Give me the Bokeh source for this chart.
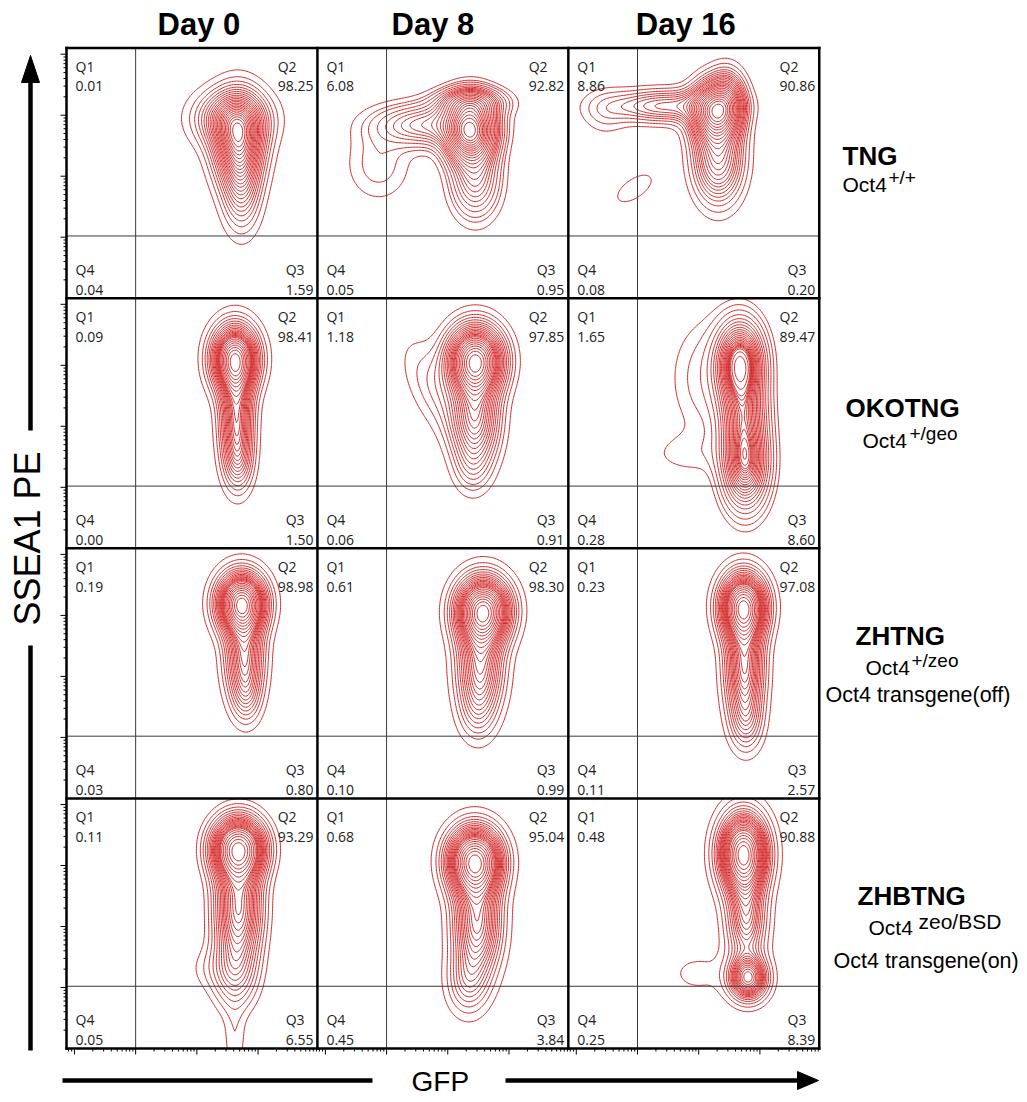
import numpy as np
from bokeh.plotting import figure
from bokeh.models import Range1d
from bokeh.core.properties import value
from bokeh.embed import file_html
from bokeh.resources import INLINE

# ---------------- data ----------------
days = ["Day 0", "Day 8", "Day 16"]
cell_lines = ["TNG", "OKOTNG", "ZHTNG", "ZHBTNG"]
genotype_sup = ["+/+", "+/geo", "+/zeo", "zeo/BSD"]
transgene = ["", "", "Oct4 transgene(off)", "Oct4 transgene(on)"]

# quadrant percentages, rows = cell lines, columns = days
q1 = [[0.01, 6.08, 8.86], [0.09, 1.18, 1.65], [0.19, 0.61, 0.23], [0.11, 0.68, 0.48]]
q2 = [[98.25, 92.82, 90.86], [98.41, 97.85, 89.47], [98.98, 98.30, 97.08], [93.29, 95.04, 90.88]]
q3 = [[1.59, 0.95, 0.20], [1.50, 0.91, 8.60], [0.80, 0.99, 2.57], [6.55, 3.84, 8.39]]
q4 = [[0.04, 0.05, 0.08], [0.00, 0.06, 0.28], [0.03, 0.10, 0.11], [0.05, 0.45, 0.25]]

# quadrant gates (in decades of the log axes)
gate_gfp = 1.13
gate_ssea = 1.02

# cell populations per panel (row-major):
# centre (GFP, SSEA1) in decades, spread in decades, relative weight, correlation
pop_cx = [
    [2.81, 2.70, 2.86], [2.50, 2.50, 1.80, 1.00, 2.58], [2.40, 2.45, 1.60, 0.60, 1.08, 2.60],
    [2.75, 2.78, 2.81], [2.58, 2.58, 1.90, 2.53], [2.81, 2.89, 2.86, 1.95, 2.29],
    [2.86, 2.91, 2.94], [2.71, 2.66, 2.61], [2.86, 2.88, 2.91],
    [2.81, 2.81, 2.75, 2.75, 2.29], [2.57, 2.61, 2.45], [2.86, 2.94, 2.91, 2.12],
]
pop_cy = [
    [2.58, 2.95, 1.80], [2.75, 3.21, 2.84, 2.20, 1.95], [3.05, 2.30, 3.15, 3.05, 1.80, 3.25],
    [3.11, 2.13, 1.39], [3.08, 2.13, 2.60, 1.31], [3.03, 1.39, 2.21, 1.55, 2.79],
    [3.20, 2.30, 1.64], [3.08, 2.13, 1.39], [3.15, 2.13, 1.23],
    [3.28, 2.30, 1.23, 0.10, 1.31], [3.08, 2.05, 1.07], [3.20, 1.15, 2.13, 1.23],
]
pop_sx = [
    [0.26, 0.39, 0.20], [0.25, 0.35, 0.55, 0.35, 0.25], [0.24, 0.25, 0.60, 0.25, 0.24, 0.18],
    [0.25, 0.18, 0.16], [0.29, 0.25, 0.35, 0.20], [0.23, 0.23, 0.23, 0.50, 0.41],
    [0.26, 0.21, 0.16], [0.29, 0.25, 0.20], [0.25, 0.21, 0.18],
    [0.28, 0.25, 0.25, 0.13, 0.25], [0.29, 0.26, 0.23], [0.25, 0.20, 0.21, 0.41],
]
pop_sy = [
    [0.46, 0.30, 0.46], [0.32, 0.15, 0.22, 0.40, 0.40], [0.30, 0.45, 0.17, 0.25, 0.19, 0.30],
    [0.36, 0.57, 0.33], [0.36, 0.49, 0.55, 0.30], [0.41, 0.46, 0.41, 0.25, 0.66],
    [0.33, 0.49, 0.30], [0.36, 0.52, 0.33], [0.36, 0.57, 0.33],
    [0.33, 0.57, 0.41, 0.40, 0.25], [0.36, 0.57, 0.36], [0.41, 0.23, 0.49, 0.28],
]
pop_w = [
    [1.0, 0.5, 0.4], [1.0, 0.3, 0.25, 0.07, 0.25], [1.0, 0.5, 0.3, 0.07, 0.07, 0.35],
    [1.0, 0.6, 0.2], [1.0, 0.5, 0.10, 0.1], [1.0, 0.8, 0.5, 0.05, 0.10],
    [1.0, 0.5, 0.15], [1.0, 0.5, 0.12], [1.0, 0.6, 0.2],
    [1.0, 0.6, 0.25, 0.08, 0.05], [1.0, 0.55, 0.2], [1.0, 0.6, 0.4, 0.05],
]
pop_rho = [
    [0, 0, 0], [0, 0, 0, 0, 0], [0, 0, 0, 0, 0.6, 0],
    [0, 0, 0], [0, 0, -0.6, 0], [0, 0, 0, 0, 0],
    [0, 0, 0], [0, 0, 0], [0, 0, 0],
    [0, 0, 0, 0, 0], [0, 0, 0], [0, 0, 0, 0],
]

# ---------------- layout ----------------
P = 4.1                      # panel size in decades
UX, UY = 61.2, 61.0          # pixels per decade
GL, GB = 66.0, 1048.0        # grid left / bottom in page pixels
W_PX, H_PX = 1024, 1100


def X(px):
    return (px - GL) / UX


def Y(py):
    return (GB - py) / UY


def lift(fs):
    # baseline correction (in decades) for a font size in px
    return (0.3 * fs + 1.5) / UY


RED = "#d42a2a"
SANS = value("Liberation Sans")
QF = value("Open Sans")

p = figure(width=W_PX, height=H_PX, x_range=Range1d(X(0), X(W_PX)),
           y_range=Range1d(Y(H_PX), Y(0)), output_backend="svg",
           toolbar_location=None, min_border=0)
p.axis.visible = False
p.grid.visible = False
p.outline_line_color = None
p.background_fill_color = "white"

# ---- contour plots ----
n = 165
g = np.linspace(0, P, n)
GX, GY = np.meshgrid(g, g)
fracs = np.arange(0.04, 0.99, 0.04)

for r in range(4):
    for c in range(3):
        k = r * 3 + c
        z = np.zeros_like(GX)
        for cx, cy, sx, sy, w, rho in zip(pop_cx[k], pop_cy[k], pop_sx[k], pop_sy[k], pop_w[k], pop_rho[k]):
            dx = (GX - cx) / sx
            dy = (GY - cy) / sy
            z += w * np.exp(-0.5 * (dx * dx - 2 * rho * dx * dy + dy * dy) / (1 - rho * rho))
        zs = np.sort(z.ravel())[::-1]
        cum = np.cumsum(zs)
        cum /= cum[-1]
        lv = np.unique(zs[np.searchsorted(cum, fracs)])
        x0, y0 = c * P, (3 - r) * P
        p.contour(g + x0, g + y0, z, lv, line_color=RED, line_width=1.0)

# ---- gates ----
gx0, gy0, gx1, gy1 = [], [], [], []
for r in range(4):
    for c in range(3):
        x0, y0 = c * P, (3 - r) * P
        gx0 += [x0 + gate_gfp, x0]
        gx1 += [x0 + gate_gfp, x0 + P]
        gy0 += [y0, y0 + gate_ssea]
        gy1 += [y0 + P, y0 + gate_ssea]
p.segment(gx0, gy0, gx1, gy1, line_color="#3a3a3a", line_width=1)

# ---- ticks ----
def log_ticks(offset):
    out = []
    for d in range(-1, 5):
        for m in range(1, 10):
            u = d + np.log10(m) + offset
            if 0 < u < P - 0.01:
                out.append((u, m == 1))
    return out

tx0, ty0, tx1, ty1 = [], [], [], []
for r in range(4):
    y0 = (3 - r) * P
    for u, major in log_ticks(0.0):
        L = (6 if major else 3) / UX
        tx0.append(0); tx1.append(-L); ty0.append(y0 + u); ty1.append(y0 + u)
for c in range(3):
    x0 = c * P
    for u, major in log_ticks(gate_gfp - 1):
        L = (6 if major else 3) / UY
        tx0.append(x0 + u); tx1.append(x0 + u); ty0.append(0); ty1.append(-L)
p.segment(tx0, ty0, tx1, ty1, line_color="black", line_width=1)

# ---- panel borders ----
bx0, by0, bx1, by1 = [], [], [], []
for c in range(4):
    bx0.append(c * P); bx1.append(c * P); by0.append(0); by1.append(4 * P)
for r in range(5):
    bx0.append(0); bx1.append(3 * P); by0.append(r * P); by1.append(r * P)
p.segment(bx0, by0, bx1, by1, line_color="black", line_width=2.5, line_cap="square")

# ---- quadrant texts ----
def est_w(s):
    return sum(8.0 if ch.isdigit() else 3.7 for ch in s)

QFS = 14
lx, ly, lt, la = [], [], [], []
for r in range(4):
    for c in range(3):
        x0, y0 = c * P, (3 - r) * P
        v1, v2, v3, v4 = ("%.2f" % q1[r][c], "%.2f" % q2[r][c], "%.2f" % q3[r][c], "%.2f" % q4[r][c])
        xl = x0 + 9 / UX
        xr = x0 + P - 4 / UX
        top, bot = y0 + P + lift(QFS), y0 + lift(QFS)
        ys = [top - 24 / UY, top - 44 / UY, bot + 23 / UY, bot + 3 / UY]
        lx += [xl, xl, xl, xl]
        ly += ys
        lt += ["Q1", v1, "Q4", v4]
        la += ["left"] * 4
        lx += [xr - est_w(v2) / UX, xr, xr - est_w(v3) / UX, xr]
        ly += ys
        lt += ["Q2", v2, "Q3", v3]
        la += ["left", "right", "left", "right"]
p.text(lx, ly, text=lt, text_align=la, text_baseline="alphabetic",
       text_font=QF, text_font_size="%dpx" % QFS, text_color="#222222")

# ---- column titles ----
title_dx_px = [7, -10, -8]
p.text([c * P + P / 2 + title_dx_px[c] / UX for c in range(3)], [Y(35) + lift(31)] * 3, text=days,
       text_align="center", text_baseline="alphabetic", text_font=SANS,
       text_font_style="bold", text_font_size="31px", text_color="black")

# ---- row labels ----
def label(px, py, s, fs, bold=False):
    p.text([X(px)], [Y(py) + lift(fs)], text=[s], text_font=SANS,
           text_font_style="bold" if bold else "normal", text_font_size="%gpx" % fs,
           text_baseline="alphabetic", text_color="black")

name_pos = [(842, 165), (845, 417), (855, 645), (857, 905)]
oct_pos = [(842, 192), (862, 448), (865, 675), (868, 935)]
sup_pos = [(888, 184), (909, 440), (911, 667), (918, 929)]
sup_size = [19, 19, 19, 21]
tg_pos = [None, None, (825, 702), (833, 968)]
for r in range(4):
    label(name_pos[r][0], name_pos[r][1], cell_lines[r], 26, bold=True)
    label(oct_pos[r][0], oct_pos[r][1], "Oct4", 21)
    label(sup_pos[r][0], sup_pos[r][1], genotype_sup[r], sup_size[r])
    if tg_pos[r]:
        label(tg_pos[r][0], tg_pos[r][1], transgene[r], 21.5)

# ---- axis labels with arrows ----
p.text([X(27)], [Y(538)], text=["SSEA1 PE"], angle=np.pi / 2, text_align="center",
       text_baseline="middle", text_font=SANS, text_font_size="36px", text_color="black")
p.segment([X(30), X(30)], [Y(1050), Y(430)], [X(30), X(30)], [Y(645), Y(78)],
          line_color="black", line_width=4.5)
p.patch([X(21), X(39), X(30)], [Y(82), Y(82), Y(55)], color="black")

label(411, 1091, "GFP", 28)
p.segment([X(62), X(505)], [Y(1080), Y(1080)], [X(372), X(800)], [Y(1080), Y(1080)],
          line_color="black", line_width=4.5)
p.patch([X(797), X(797), X(818)], [Y(1071), Y(1089), Y(1080)], color="black")

open("out.html", "w").write(file_html(p, INLINE))
